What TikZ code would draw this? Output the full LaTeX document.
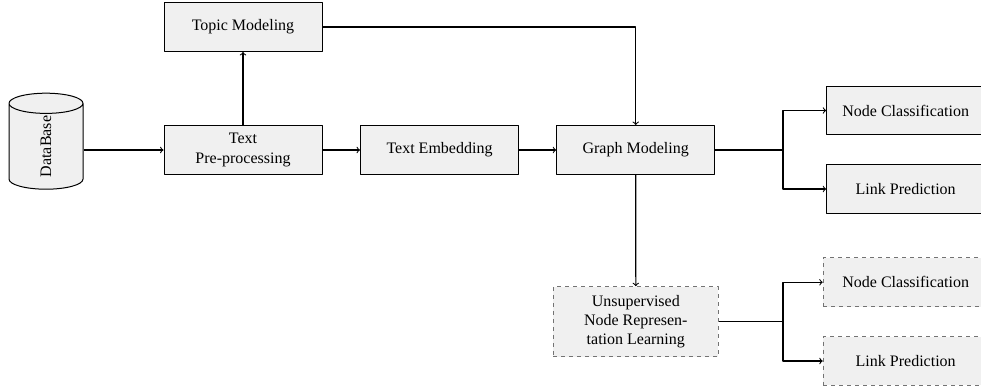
\documentclass[tikz,border=0pt]{standalone}
\usepackage{fontspec}
\setmainfont{Liberation Serif}
\usetikzlibrary{shapes.geometric}
\begin{document}
\begin{tikzpicture}[line join = round, >=to, x=0.75pt, y=-0.75pt, font=\fontsize{12}{14.6}\selectfont]
	\tikzset{blockbox/.style={draw,line width=0.75pt,fill=black!6,minimum width=118.5pt,minimum height=36.7pt,align=center,inner sep=0pt}}
	\tikzset{dashbox/.style={blockbox,draw=black!55,dashed}}
	\tikzset{link/.style={->,line width=0.8pt}}
	\useasboundingbox (0,0) rectangle (981,392);
	\node[draw,line width=0.75pt,fill=black!6,shape=cylinder,rotate=90,aspect=1.9,minimum width=55.5pt,minimum height=72pt,inner sep=0pt] (db) at (46,146.5) {DataBase};
	\node[blockbox] (topic) at (243,27) {Topic Modeling};
	\node[blockbox] (prep) at (243,150) {Text\\Pre-processing};
	\node[blockbox] (embed) at (439.5,150) {Text Embedding};
	\node[blockbox] (graph) at (635.7,150) {Graph Modeling};
	\node[blockbox] (nodeA) at (905.7,110.5) {Node Classification};
	\node[blockbox] (linkA) at (905.7,189) {Link Prediction};
	\node[dashbox,minimum width=123.7pt,minimum height=52.5pt] (unsup) at (635.8,321.7) {Unsupervised\\Node Represen-\\tation Learning};
	\node[dashbox,minimum width=123.7pt] (nodeB) at (905.7,282.3) {Node Classification};
	\node[dashbox,minimum width=123.7pt] (linkB) at (905.7,361) {Link Prediction};
	\coordinate (splitA) at (783,150);
	\coordinate (splitB) at (783,321.7);
	\draw[link] (db.south |- prep.west) -- (prep.west);
	\draw[link] (prep) -- (topic);
	\draw[link] (prep) -- (embed);
	\draw[link] (embed) -- (graph);
	\draw[link] (topic.east) -| (graph.north);
	\draw[link] (graph) -- (unsup);
	\draw[line width=0.8pt] (graph.east) -- (splitA);
	\draw[line width=0.8pt] (unsup.east) -- (splitB);
	\foreach \s/\t in {splitA/nodeA,splitA/linkA,splitB/nodeB,splitB/linkB}
	\draw[link] (\s) |- (\t.west);
\end{tikzpicture}
\end{document}
